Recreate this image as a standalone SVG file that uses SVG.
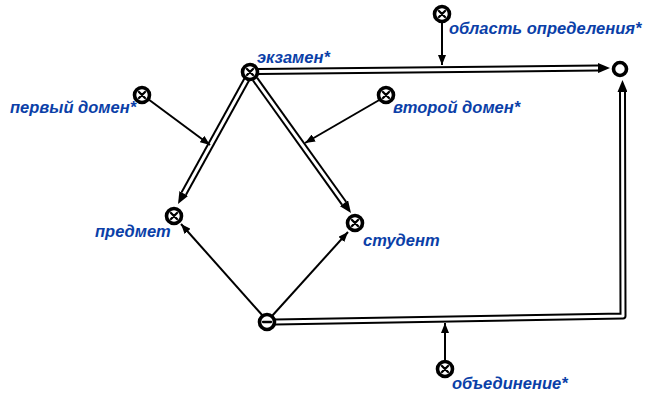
<svg xmlns="http://www.w3.org/2000/svg" width="651" height="404" viewBox="0 0 651 404">
<style>
.bg{fill:#ffffff}
.lbl{font-family:"Liberation Sans",Arial,sans-serif;font-size:16.5px;font-weight:bold;font-style:italic;fill:#0b3fa8}
.ring{fill:#ffffff;stroke:#000000;stroke-width:3.6}
.mark{stroke:#000000;stroke-width:2.3;fill:none;stroke-linecap:round}
.dbl{fill:none;stroke:#000000;stroke-width:7;stroke-linejoin:round;marker-end:url(#bigArrow)}
.dbl-in{fill:none;stroke:#ffffff;stroke-width:3;stroke-linejoin:round}
.arr{fill:none;stroke:#000000;stroke-width:2;marker-end:url(#smallArrow)}
</style>
<defs>
<marker id="bigArrow" viewBox="0 0 12 10" markerWidth="12" markerHeight="10" refX="0" refY="5" orient="auto" markerUnits="userSpaceOnUse">
<path d="M0,0 L12,5 L0,10 z" fill="#000000"/>
</marker>
<marker id="smallArrow" viewBox="0 0 10 8" markerWidth="10" markerHeight="8" refX="10" refY="4" orient="auto" markerUnits="userSpaceOnUse">
<path d="M0,0 L10,4 L0,8 z" fill="#000000"/>
</marker>
</defs>
<rect class="bg" x="0" y="0" width="651" height="404"/>
<g id="connectors">
<path class="dbl" d="M258,71.5 L598,68.1"/>
<path class="dbl-in" d="M258,71.5 L598,68.1"/>
<path class="dbl" d="M247,79 L183.8,193.5"/>
<path class="dbl-in" d="M247,79 L183.8,193.5"/>
<path class="dbl" d="M255,79 L344,203.2"/>
<path class="dbl-in" d="M255,79 L344,203.2"/>
<path class="dbl" d="M275,322 L623,316 L622.5,92"/>
<path class="dbl-in" d="M275,322 L623,316 L622.5,92"/>
<path class="arr" d="M442,22 L442,65"/>
<path class="arr" d="M445,361 L445,323"/>
<path class="arr" d="M148,99 L210,145"/>
<path class="arr" d="M381,99 L305,143"/>
<path class="arr" d="M263,316 L181,224"/>
<path class="arr" d="M272,316 L348,232"/>
</g>
<g id="exam">
<circle class="ring" cx="250" cy="72" r="7.5"/>
<path class="mark" d="M247,69 L253,75 M253,69 L247,75"/>
<text class="lbl" x="257" y="63">экзамен*</text>
</g>
<g id="target">
<circle class="ring" cx="620" cy="69" r="6.5"/>
</g>
<g id="domain-def">
<circle class="ring" cx="442" cy="14" r="7.5"/>
<path class="mark" d="M439,11 L445,17 M445,11 L439,17"/>
<text class="lbl" x="449" y="34">область определения*</text>
</g>
<g id="first-domain">
<circle class="ring" cx="142" cy="95" r="7.5"/>
<path class="mark" d="M139,92 L145,98 M145,92 L139,98"/>
<text class="lbl" x="10" y="113">первый домен*</text>
</g>
<g id="second-domain">
<circle class="ring" cx="386" cy="95" r="7.5"/>
<path class="mark" d="M383,92 L389,98 M389,92 L383,98"/>
<text class="lbl" x="393" y="113">второй домен*</text>
</g>
<g id="subject">
<circle class="ring" cx="174" cy="216" r="7.5"/>
<path class="mark" d="M171,213 L177,219 M177,213 L171,219"/>
<text class="lbl" x="95" y="237">предмет</text>
</g>
<g id="student">
<circle class="ring" cx="355" cy="223" r="7.5"/>
<path class="mark" d="M352,220 L358,226 M358,220 L352,226"/>
<text class="lbl" x="363" y="246">студент</text>
</g>
<g id="minus">
<circle class="ring" cx="267" cy="322" r="7.5"/>
<path class="mark" d="M263,322 L271,322"/>
</g>
<g id="union">
<circle class="ring" cx="445" cy="369" r="7.5"/>
<path class="mark" d="M442,366 L448,372 M448,366 L442,372"/>
<text class="lbl" x="452" y="389">объединение*</text>
</g>
</svg>
